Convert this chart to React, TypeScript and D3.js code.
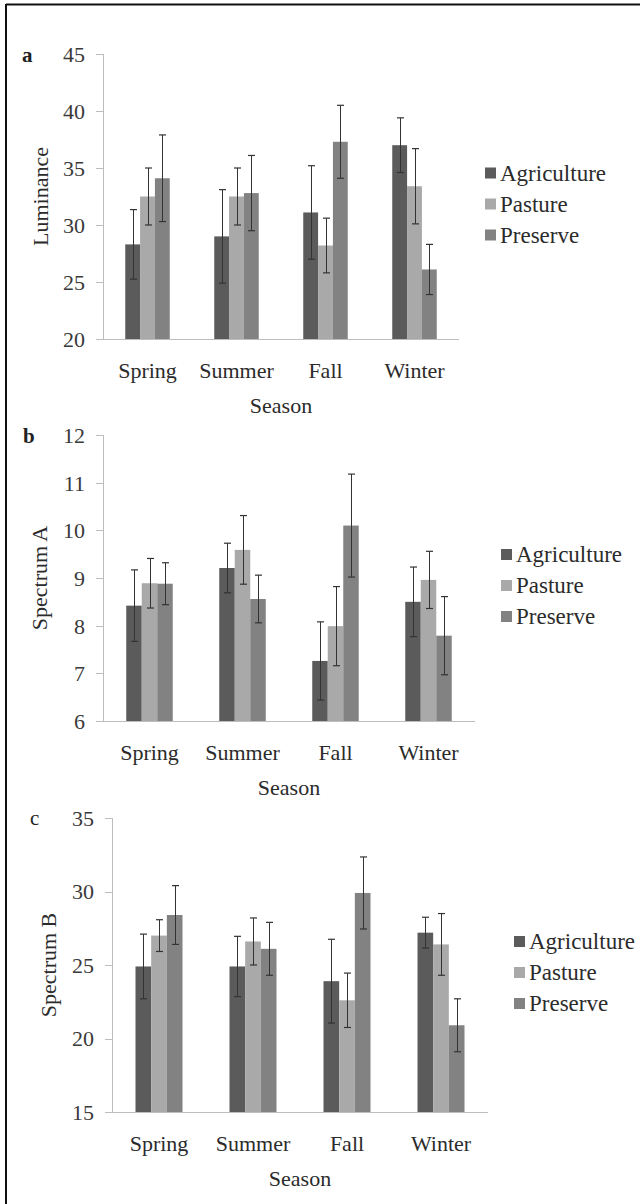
import React, { useEffect, useRef } from 'react';
import * as d3 from 'd3';

const seasons = ['Spring', 'Summer', 'Fall', 'Winter'];
const landUses = ['Agriculture', 'Pasture', 'Preserve'];
const barColors = ['#5b5b5b', '#a9a9a9', '#828282'];

// panel a - luminance, rows = season, cols = land use
const luminanceMean = [
  [28.3, 32.5, 34.1],
  [29.0, 32.5, 32.8],
  [31.1, 28.2, 37.3],
  [37.0, 33.4, 26.1],
];
const luminanceErr = [
  [3.05, 2.5, 3.8],
  [4.1, 2.5, 3.3],
  [4.1, 2.4, 3.2],
  [2.4, 3.3, 2.2],
];
const luminanceTicks = [20, 25, 30, 35, 40, 45];

// panel b - spectrum A
const spectrumAMean = [
  [8.42, 8.89, 8.88],
  [9.21, 9.59, 8.56],
  [7.26, 7.99, 10.1],
  [8.5, 8.96, 7.79],
];
const spectrumAErr = [
  [0.75, 0.52, 0.44],
  [0.52, 0.72, 0.5],
  [0.82, 0.83, 1.08],
  [0.73, 0.6, 0.82],
];
const spectrumATicks = [6, 7, 8, 9, 10, 11, 12];

// panel c - spectrum B
const spectrumBMean = [
  [24.9, 27.0, 28.4],
  [24.9, 26.6, 26.1],
  [23.9, 22.6, 29.9],
  [27.2, 26.4, 20.9],
];
const spectrumBErr = [
  [2.2, 1.08, 2.0],
  [2.05, 1.6, 1.8],
  [2.85, 1.85, 2.45],
  [1.05, 2.1, 1.8],
];
const spectrumBTicks = [15, 20, 25, 30, 35];

const FONT = "'Liberation Serif', 'DejaVu Serif', serif";
const TEXT = '#2b2b2b';

type PanelCfg = {
  letter: string;
  bold: boolean;
  yTitle: string;
  mean: number[][];
  err: number[][];
  ticks: number[];
  left: number;
  right: number;
  top: number;
  bottom: number;
  letterX: number;
  letterY: number;
  titleX: number;
};

const panels: PanelCfg[] = [
  { letter: 'a', bold: true, yTitle: 'Luminance', mean: luminanceMean, err: luminanceErr, ticks: luminanceTicks,
    left: 103, right: 459, top: 54, bottom: 339, letterX: 22, letterY: 62, titleX: 48 },
  { letter: 'b', bold: true, yTitle: 'Spectrum A', mean: spectrumAMean, err: spectrumAErr, ticks: spectrumATicks,
    left: 103, right: 475, top: 435, bottom: 721, letterX: 23, letterY: 443, titleX: 47 },
  { letter: 'c', bold: false, yTitle: 'Spectrum B', mean: spectrumBMean, err: spectrumBErr, ticks: spectrumBTicks,
    left: 112, right: 488, top: 818, bottom: 1112, letterX: 30, letterY: 825, titleX: 56 },
];

const App = () => {
  const svgRef = useRef<SVGSVGElement>(null);

  useEffect(() => {
    const svg = d3.select(svgRef.current);
    svg.selectAll('*').remove();
    svg.attr('font-family', FONT);

    // frame (top and left edges only)
    svg.append('line').attr('x1', 6).attr('x2', 640).attr('y1', 4.5).attr('y2', 4.5)
      .attr('stroke', '#111').attr('stroke-width', 2);
    svg.append('line').attr('x1', 6).attr('x2', 6).attr('y1', 4).attr('y2', 1204)
      .attr('stroke', '#111').attr('stroke-width', 2);

    panels.forEach((p) => {
      const g = svg.append('g');
      const ext = d3.extent(p.ticks) as [number, number];
      const y = d3.scaleLinear().domain(ext).range([p.bottom, p.top]);
      const x0 = d3.scaleBand().domain(seasons).range([p.left, p.right])
        .paddingInner(0.5).paddingOuter(0.25);
      const x1 = d3.scaleBand().domain(landUses).range([0, x0.bandwidth()]);

      // y axis
      g.append('line').attr('x1', p.left + 0.5).attr('x2', p.left + 0.5)
        .attr('y1', p.top).attr('y2', p.bottom).attr('stroke', '#bdbdbd');
      p.ticks.forEach((t) => {
        g.append('line').attr('x1', p.left - 7).attr('x2', p.left)
          .attr('y1', Math.round(y(t)) + 0.5).attr('y2', Math.round(y(t)) + 0.5)
          .attr('stroke', '#bdbdbd');
        g.append('text').attr('x', p.left - 18).attr('y', y(t)).attr('dy', '0.36em')
          .attr('text-anchor', 'end').attr('font-size', 22)
          .attr('fill', '#3a3a3a').text(t);
      });

      // bars
      seasons.forEach((s, si) => {
        landUses.forEach((u, ui) => {
          const v = p.mean[si][ui];
          const bx = (x0(s) as number) + (x1(u) as number);
          g.append('rect').attr('x', bx).attr('y', y(v))
            .attr('width', x1.bandwidth()).attr('height', y(ext[0]) - y(v))
            .attr('fill', barColors[ui]);
        });
      });

      // error bars
      seasons.forEach((s, si) => {
        landUses.forEach((u, ui) => {
          const v = p.mean[si][ui];
          const e = p.err[si][ui];
          const cx = Math.round((x0(s) as number) + (x1(u) as number) + x1.bandwidth() / 2) + 0.5;
          const yt = y(v + e);
          const yb = y(v - e);
          g.append('line').attr('x1', cx).attr('x2', cx).attr('y1', yt).attr('y2', yb)
            .attr('stroke', '#333').attr('stroke-width', 1);
          [yt, yb].forEach((yy) => {
            g.append('line').attr('x1', cx - 3.5).attr('x2', cx + 3.5).attr('y1', yy).attr('y2', yy)
              .attr('stroke', '#333').attr('stroke-width', 1.2);
          });
        });
      });

      // x axis
      g.append('line').attr('x1', p.left - 7).attr('x2', p.right)
        .attr('y1', p.bottom + 0.5).attr('y2', p.bottom + 0.5).attr('stroke', '#bdbdbd');
      seasons.forEach((s) => {
        g.append('text').attr('x', (x0(s) as number) + x0.bandwidth() / 2).attr('y', p.bottom + 39)
          .attr('text-anchor', 'middle').attr('font-size', 22)
          .attr('fill', TEXT).text(s);
      });
      g.append('text').attr('x', (p.left + p.right) / 2).attr('y', p.bottom + 74)
        .attr('text-anchor', 'middle').attr('font-size', 22)
        .attr('fill', TEXT).text('Season');

      // y title
      g.append('text')
        .attr('transform', `translate(${p.titleX}, ${(p.top + p.bottom) / 2}) rotate(-90)`)
        .attr('text-anchor', 'middle').attr('font-size', 22)
        .attr('fill', TEXT).text(p.yTitle);

      // panel letter
      g.append('text').attr('x', p.letterX).attr('y', p.letterY)
        .attr('font-size', 21)
        .attr('font-weight', p.bold ? 'bold' : 'normal')
        .attr('fill', '#222').text(p.letter);

      // legend
      const midY = (p.top + p.bottom) / 2;
      const lx = p.right + 26;
      landUses.forEach((u, ui) => {
        const ly = midY + 8 + (ui - 1) * 31;
        g.append('rect').attr('x', lx).attr('y', ly - 6).attr('width', 11).attr('height', 11)
          .attr('fill', barColors[ui]);
        g.append('text').attr('x', lx + 15).attr('y', ly + 7)
          .attr('font-size', 23)
          .attr('fill', TEXT).text(u);
      });
    });
  }, []);

  return (
    <div style={{ position: 'absolute', left: 0, top: 0, width: 640, height: 1204, background: '#fff' }}>
      <svg ref={svgRef} width={640} height={1204} style={{ display: 'block' }}></svg>
    </div>
  );
};

export default App;
